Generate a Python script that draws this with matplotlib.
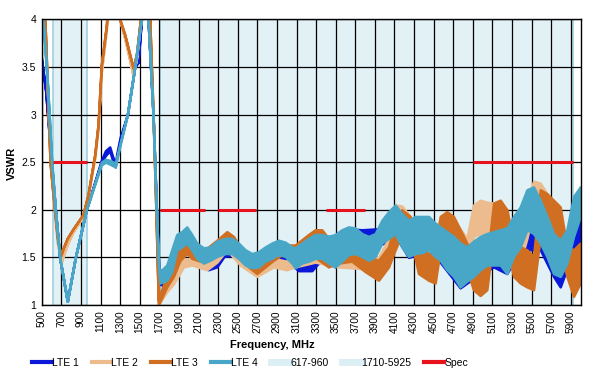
import matplotlib
matplotlib.use("Agg")
import matplotlib.pyplot as plt
from matplotlib.lines import Line2D
import numpy as np

plt.rcParams['font.family'] = ['Liberation Sans', 'DejaVu Sans']

# ---------------- data ----------------
# LTE 1 (blue)
lte1_f  = [495, 540, 598, 639, 683, 761, 843, 955, 1108, 1150, 1194, 1220, 1250, 1270, 1300, 1374, 1449, 1483, 1517, 1540,
           1570, 1585, 1636, 1670, 1695, 1707, 1760, 1810, 1860, 1929, 1980, 2050, 2116, 2200, 2287, 2360, 2440, 2508,
           2576, 2644, 2712, 2780, 2916, 3052, 3120, 3256, 3358, 3494, 3630, 3767, 3937, 4039, 4107, 4243, 4447, 4566,
           4770, 4906, 5111, 5247, 5383, 5470, 5587, 5723, 5791, 5859, 5927, 5995]
lte1_lo = [3.60, 3.25, 2.50, 2.00, 1.50, 1.04, 1.50, 2.00, 2.50, 2.57, 2.62, 2.53, 2.45, 2.57, 2.72, 3.00, 3.50, 3.55, 4.00, 4.30,
           4.30, 4.00, 3.00, 2.00, 1.35, 1.22, 1.19, 1.26, 1.35, 1.60, 1.62, 1.55, 1.45, 1.37, 1.40, 1.51, 1.52, 1.47,
           1.40, 1.36, 1.38, 1.44, 1.51, 1.42, 1.36, 1.36, 1.48, 1.40, 1.52, 1.60, 1.62, 1.68, 1.73, 1.50, 1.56, 1.45,
           1.18, 1.28, 1.40, 1.33, 1.58, 1.58, 1.58, 1.30, 1.19, 1.38, 1.55, 1.65]
lte1_hi = [3.60, 3.25, 2.50, 2.00, 1.50, 1.04, 1.50, 2.00, 2.52, 2.62, 2.66, 2.57, 2.48, 2.61, 2.76, 3.00, 3.50, 3.55, 4.00, 4.30,
           4.30, 4.00, 3.00, 2.00, 1.35, 1.37, 1.33, 1.45, 1.58, 1.72, 1.78, 1.70, 1.56, 1.47, 1.52, 1.62, 1.68, 1.63,
           1.56, 1.52, 1.54, 1.59, 1.66, 1.59, 1.52, 1.55, 1.72, 1.72, 1.80, 1.79, 1.80, 1.96, 2.02, 1.87, 1.90, 1.80,
           1.62, 1.65, 1.75, 1.79, 1.98, 2.15, 2.05, 1.72, 1.64, 1.75, 2.05, 2.15]

# LTE 2 (tan)
lte2_f  = [525, 585, 630, 660, 700, 730, 770, 820, 921, 972, 1041, 1075, 1108, 1160, 1175, 1290, 1296, 1347, 1381, 1430,
           1466, 1500, 1515, 1590, 1602, 1636, 1665, 1690, 1700, 1776, 1844, 1946, 2031, 2185, 2287, 2389, 2525, 2695,
           2865, 3000, 3086, 3290, 3528, 3801, 3937, 4039, 4107, 4175, 4260, 4345, 4515, 4566, 4702, 4838, 4906, 4974,
           5042, 5111, 5179, 5247, 5315, 5383, 5451, 5519, 5587, 5655, 5723, 5859, 5927, 5995]
lte2_lo = [4.20, 2.50, 2.00, 1.65, 1.45, 1.55, 1.66, 1.77, 1.93, 2.14, 2.55, 2.86, 3.45, 3.90, 4.20, 4.20, 4.00, 3.80, 3.65, 3.42,
           3.58, 3.90, 4.20, 4.20, 4.00, 3.00, 2.00, 1.01, 1.02, 1.14, 1.22, 1.40, 1.42, 1.37, 1.45, 1.58, 1.42, 1.30,
           1.40, 1.37, 1.40, 1.45, 1.40, 1.38, 1.30, 1.45, 1.75, 1.80, 1.72, 1.50, 1.60, 1.60, 1.60, 1.45, 1.72, 1.75,
           1.75, 1.72, 1.75, 1.60, 1.40, 1.45, 1.70, 2.00, 2.00, 1.75, 1.65, 1.35, 1.20, 1.30]
lte2_hi = [4.20, 2.50, 2.00, 1.65, 1.45, 1.55, 1.66, 1.77, 1.93, 2.14, 2.55, 2.86, 3.45, 3.90, 4.20, 4.20, 4.00, 3.80, 3.65, 3.42,
           3.58, 3.90, 4.20, 4.20, 4.00, 3.00, 2.00, 1.05, 1.08, 1.23, 1.33, 1.49, 1.47, 1.46, 1.55, 1.65, 1.52, 1.40,
           1.49, 1.46, 1.55, 1.70, 1.55, 1.50, 1.50, 1.70, 2.05, 2.04, 1.93, 1.75, 1.79, 1.90, 1.90, 1.70, 2.05, 2.10,
           2.08, 2.07, 2.10, 1.98, 1.70, 1.80, 2.10, 2.30, 2.28, 2.17, 2.05, 1.65, 1.55, 1.60]

# LTE 3 (orange)
lte3_f  = [525, 585, 630, 660, 694, 720, 760, 820, 921, 972, 1041, 1075, 1108, 1160, 1175, 1290, 1296, 1347, 1381, 1432,
           1466, 1500, 1515, 1590, 1602, 1636, 1665, 1690, 1700, 1776, 1844, 1912, 1980, 2031, 2116, 2202, 2287, 2389,
           2457, 2525, 2610, 2695, 2780, 2865, 2950, 3035, 3086, 3222, 3290, 3358, 3426, 3528, 3664, 3801, 3937, 4039,
           4107, 4175, 4260, 4345, 4447, 4515, 4566, 4634, 4702, 4770, 4838, 4906, 4974, 5042, 5111, 5179, 5247, 5315,
           5383, 5451, 5519, 5587, 5655, 5723, 5791, 5859, 5927, 5995]
lte3_lo = [4.20, 2.50, 2.00, 1.70, 1.52, 1.60, 1.70, 1.80, 1.95, 2.16, 2.58, 2.90, 3.52, 3.94, 4.20, 4.20, 4.00, 3.84, 3.70, 3.49,
           3.63, 3.94, 4.20, 4.20, 4.00, 3.00, 2.00, 1.01, 1.02, 1.19, 1.30, 1.47, 1.54, 1.49, 1.46, 1.49, 1.58, 1.65,
           1.61, 1.51, 1.40, 1.33, 1.40, 1.47, 1.53, 1.51, 1.44, 1.50, 1.50, 1.45, 1.40, 1.44, 1.46, 1.35, 1.26, 1.40,
           1.58, 1.75, 1.72, 1.33, 1.26, 1.23, 1.58, 1.58, 1.54, 1.47, 1.37, 1.16, 1.10, 1.16, 1.72, 1.79, 1.61, 1.30,
           1.23, 1.19, 1.16, 1.72, 1.75, 1.68, 1.61, 1.30, 1.09, 1.23]
lte3_hi = [4.20, 2.50, 2.00, 1.70, 1.52, 1.60, 1.70, 1.80, 1.95, 2.16, 2.58, 2.90, 3.52, 3.94, 4.20, 4.20, 4.00, 3.84, 3.70, 3.49,
           3.63, 3.94, 4.20, 4.20, 4.00, 3.00, 2.00, 1.05, 1.10, 1.30, 1.40, 1.60, 1.62, 1.60, 1.54, 1.61, 1.68, 1.77,
           1.72, 1.61, 1.51, 1.44, 1.51, 1.60, 1.65, 1.63, 1.63, 1.74, 1.79, 1.79, 1.70, 1.58, 1.56, 1.51, 1.47, 1.61,
           1.86, 2.00, 1.93, 1.61, 1.54, 1.51, 1.93, 1.98, 1.93, 1.79, 1.65, 1.44, 1.33, 1.44, 2.07, 2.10, 2.00, 1.65,
           1.61, 1.58, 1.51, 2.21, 2.17, 2.10, 2.03, 1.61, 1.58, 1.65]

# LTE 4 (teal)
lte4_f  = [505, 560, 602, 639, 683, 761, 843, 955, 1108, 1150, 1194, 1250, 1300, 1374, 1449, 1517, 1540, 1570, 1585, 1636,
           1670, 1695, 1707, 1776, 1827, 1878, 1929, 1980, 2031, 2082, 2150, 2219, 2287, 2372, 2440, 2508, 2576, 2644,
           2712, 2780, 2848, 2916, 2984, 3052, 3086, 3154, 3222, 3290, 3358, 3426, 3494, 3562, 3630, 3698, 3767, 3835,
           3903, 3971, 4039, 4107, 4175, 4243, 4311, 4379, 4447, 4515, 4566, 4634, 4702, 4770, 4838, 4906, 4974, 5042,
           5111, 5179, 5247, 5315, 5383, 5451, 5519, 5587, 5655, 5723, 5791, 5859, 5927, 5995]
lte4_lo = [4.10, 3.30, 2.50, 2.00, 1.50, 1.04, 1.50, 2.00, 2.47, 2.50, 2.48, 2.45, 2.68, 3.00, 3.50, 4.00, 4.30, 4.30, 4.00, 3.00,
           2.00, 1.35, 1.23, 1.26, 1.35, 1.58, 1.61, 1.65, 1.58, 1.49, 1.44, 1.47, 1.51, 1.54, 1.54, 1.49, 1.42, 1.39,
           1.40, 1.46, 1.49, 1.53, 1.51, 1.44, 1.39, 1.44, 1.46, 1.49, 1.49, 1.44, 1.40, 1.46, 1.53, 1.54, 1.51, 1.47,
           1.51, 1.65, 1.70, 1.75, 1.61, 1.51, 1.54, 1.55, 1.58, 1.51, 1.47, 1.37, 1.30, 1.19, 1.25, 1.30, 1.37, 1.42,
           1.42, 1.42, 1.33, 1.51, 1.61, 1.79, 1.75, 1.65, 1.51, 1.33, 1.30, 1.44, 1.72, 1.93]
lte4_hi = [4.10, 3.30, 2.50, 2.00, 1.50, 1.04, 1.50, 2.00, 2.50, 2.53, 2.52, 2.49, 2.70, 3.00, 3.50, 4.00, 4.30, 4.30, 4.00, 3.00,
           2.00, 1.35, 1.35, 1.42, 1.58, 1.74, 1.77, 1.82, 1.74, 1.65, 1.60, 1.61, 1.67, 1.70, 1.70, 1.65, 1.58, 1.54,
           1.56, 1.61, 1.65, 1.68, 1.66, 1.61, 1.60, 1.65, 1.70, 1.74, 1.74, 1.72, 1.74, 1.79, 1.82, 1.81, 1.75, 1.72,
           1.75, 1.89, 1.98, 2.05, 1.96, 1.89, 1.93, 1.93, 1.93, 1.86, 1.82, 1.77, 1.72, 1.65, 1.61, 1.67, 1.72, 1.75,
           1.77, 1.79, 1.81, 1.93, 2.03, 2.21, 2.24, 2.10, 1.93, 1.75, 1.68, 1.79, 2.14, 2.24]

# bands and spec
bands = [(617, 960), (1710, 5925)]
band_labels = ["617-960", "1710-5925"]
spec_start = [617, 1710, 2300, 3400, 4900]
spec_end   = [960, 2170, 2690, 3800, 5925]
spec_val   = [2.5, 2.0, 2.0, 2.0, 2.5]

series = [
    ("LTE 1", lte1_f, lte1_lo, lte1_hi, "#0a18d8"),
    ("LTE 2", lte2_f, lte2_lo, lte2_hi, "#ecbb8e"),
    ("LTE 3", lte3_f, lte3_lo, lte3_hi, "#d06f22"),
    ("LTE 4", lte4_f, lte4_lo, lte4_hi, "#48a7c6"),
]

# ---------------- plot ----------------
fig = plt.figure(figsize=(6.02, 3.79), dpi=100)
ax = fig.add_axes([0.0693, 0.1953, 0.8953, 0.7537])

band_color = "#e1f1f6"
edge_color = "#9fd0e2"
for (a, b) in bands:
    ax.axvspan(a, b, facecolor=band_color, edgecolor="none", zorder=0)
    ax.axvline(a, color=edge_color, lw=1.2, zorder=0.5)
    ax.axvline(b, color=edge_color, lw=1.2, zorder=0.5)

for x in range(500, 6000, 200):
    ax.axvline(x, color="black", lw=0.9, zorder=1)
for y in np.arange(1.0, 4.01, 0.5):
    ax.axhline(y, color="black", lw=0.9, zorder=1)

for i, (name, f, lo, hi, c) in enumerate(series):
    ax.fill_between(f, lo, hi, facecolor=c, edgecolor=c, lw=1.8, zorder=2 + i)

for s, e, v in zip(spec_start, spec_end, spec_val):
    ax.plot([s, e], [v, v], color="#e8121c", lw=2.2, zorder=7, solid_capstyle="butt")

ax.set_xlim(500, 6000)
ax.set_ylim(1, 4)
ax.set_xticks(list(range(500, 6000, 200)))
ax.set_xticklabels([str(x) for x in range(500, 6000, 200)], rotation=90, fontsize=7.3)
ax.set_yticks([1, 1.5, 2, 2.5, 3, 3.5, 4])
ax.set_yticklabels(["1", "1.5", "2", "2.5", "3", "3.5", "4"], fontsize=7.5)
ax.tick_params(length=0, pad=4)
for sp in ax.spines.values():
    sp.set_color("black")
    sp.set_linewidth(1.0)
    sp.set_zorder(10)

fig.text(12 / 602, 1 - 163 / 379, "VSWR", rotation=90, ha="center", va="center",
         fontsize=8, fontweight="bold")
fig.text(272 / 602, 1 - 345 / 379, "Frequency, MHz", ha="center", va="center",
         fontsize=8, fontweight="bold")

handles = [Line2D([], [], color=c, lw=3) for (_, _, _, _, c) in series]
labels = [s[0] for s in series]
for lab in band_labels:
    handles.append(Line2D([], [], color="#dceff5", lw=5))
    labels.append(lab)
handles.append(Line2D([], [], color="#e8121c", lw=3))
labels.append("Spec")
fig.legend(handles, labels, loc="center left", bbox_to_anchor=(32 / 602, 1 - 363 / 379), ncol=7,
           frameon=False, fontsize=7.5, handlelength=1.9, handletextpad=0.0, columnspacing=1.25,
           borderpad=0, borderaxespad=0)

fig.savefig("out.png", dpi=100)
